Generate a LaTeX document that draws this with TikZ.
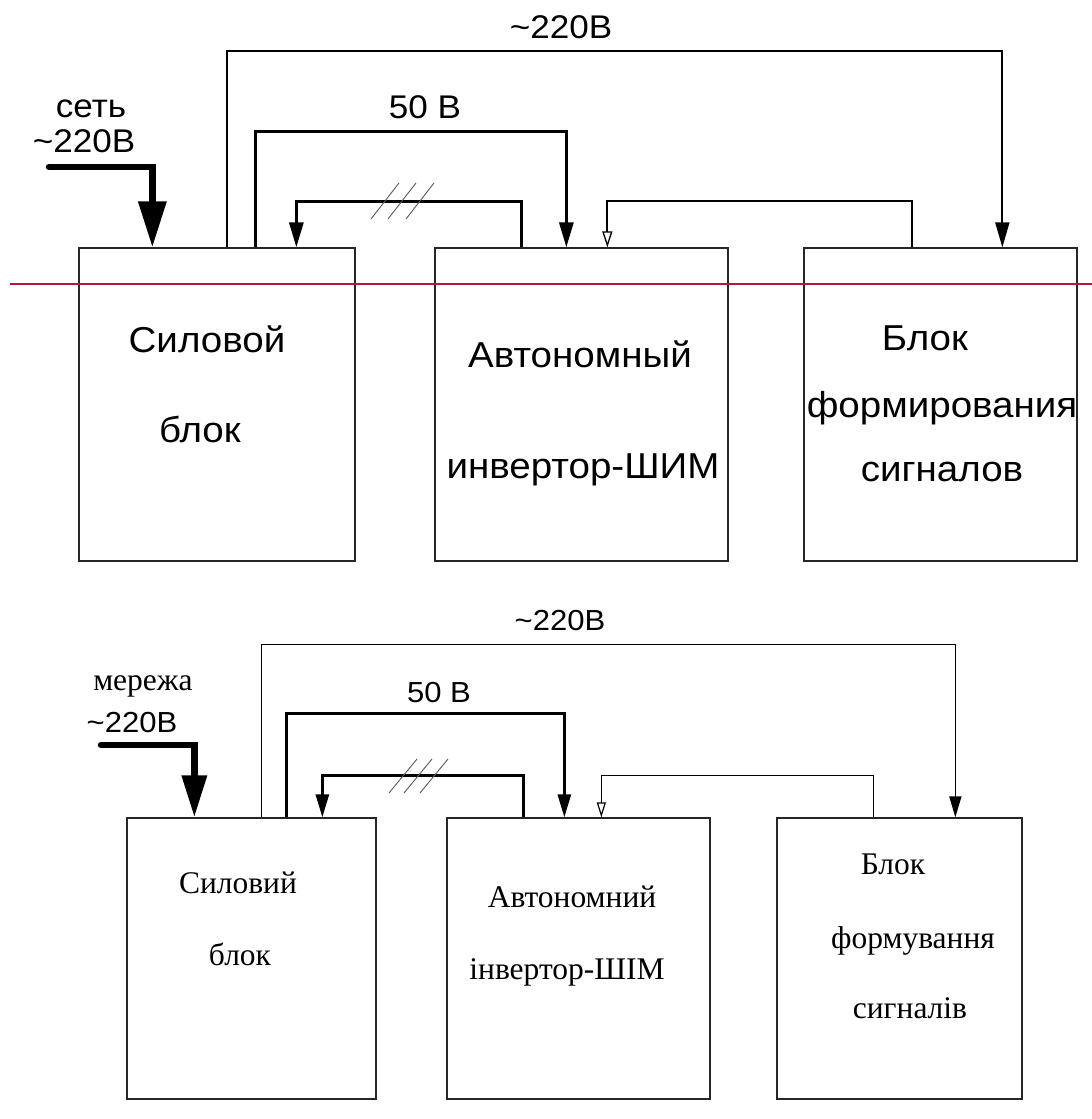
\documentclass[tikz,border=0pt]{standalone}
\usepackage{fontspec}
\setmainfont{Liberation Serif}
\newfontfamily\schemafont{Liberation Sans}[FakeStretch=1.07]
\usetikzlibrary{arrows.meta}

\definecolor{markrood}{RGB}{185,20,60}

\begin{document}
\begin{tikzpicture}[x=1pt, y=-1pt,
    blok/.style={draw=black!85, line width=1.3pt, inner sep=0pt},
    tekst/.style={anchor=base, inner sep=0pt},
    rutekst/.style={tekst, font=\schemafont\fontsize{36}{42}\selectfont},
    rulabel/.style={tekst, font=\schemafont\fontsize{32.8}{38}\selectfont},
    uatekst/.style={tekst, font=\fontsize{31.5}{38}\selectfont},
    ualabel/.style={tekst, font=\schemafont\fontsize{29}{34}\selectfont},
    draad/.style={line width=1.8pt},
    dikdraad/.style={line width=3pt},
    voeding/.style={line width=6.5pt, line cap=round,
      -{Triangle[length=46pt, width=27pt]}},
    pijl/.style={-{Triangle[length=25pt, width=14pt]}},
    openpijl/.style={-{Triangle[open, length=16pt, width=10pt, line width=1.3pt]}},
    arcering/.style={line width=0.9pt, black!65}]

  \useasboundingbox (0,0) rectangle (1092,1119);

  % ============================================================
  % BOVEN: russische variant
  % ============================================================

  % Blokken
  \node[blok, minimum width=276pt, minimum height=313pt] (sb1)  at (217,404.5) {};
  \node[blok, minimum width=293pt, minimum height=313pt] (inv1) at (581.5,404.5) {};
  \node[blok, minimum width=273pt, minimum height=313pt] (sig1) at (940.5,404.5) {};

  \node[rutekst] (sb1a)  at (207,352) {Силовой};
  \node[rutekst] (sb1b)  at (200,442) {блок};
  \node[rutekst] (inv1a) at (580,367) {Автономный};
  \node[rutekst] (inv1b) at (583,478) {инвертор-ШИМ};
  \node[rutekst] (sig1a) at (925,350) {Блок};
  \node[rutekst] (sig1b) at (942,417) {формирования};
  \node[rutekst] (sig1c) at (942,481) {сигналов};

  % Rode hulplijn
  \draw[markrood, line width=2.2pt] (10,284) -- (1092,284);

  % Netvoeding
  \coordinate (net1) at (49,167);
  \node[rulabel] (net1a) at (91,117) {сеть};
  \node[rulabel] (net1b) at (84,152) {\textasciitilde220В};
  \draw[voeding] (net1) -| ([xshift=74pt]sb1.north west);

  % ~220 V naar signaalblok
  \draw[draad, pijl]
    ([xshift=149pt]sb1.north west) -- ++(0,-196)
    -| ([xshift=199pt]sig1.north west);
  \node[rulabel] (u220a) at (561,38) {\textasciitilde220В};

  % 50 V naar invertor
  \draw[dikdraad, pijl]
    ([xshift=177pt]sb1.north west) -- ++(0,-116)
    -| ([xshift=132pt]inv1.north west);
  \node[rulabel] (u50a) at (425,118) {50 В};

  % Terugkoppeling
  \draw[dikdraad, pijl]
    ([xshift=87pt]inv1.north west) -- ++(0,-46)
    -| ([xshift=218pt]sb1.north west);
  \draw[arcering] (371,219) -- (399,183);
  \draw[arcering] (388,219) -- (416,183);
  \draw[arcering] (406,219) -- (434,183);

  % Stuursignalen
  \draw[draad, openpijl]
    ([xshift=109pt]sig1.north west) -- ++(0,-46)
    -| ([xshift=173pt]inv1.north west);

  % ============================================================
  % ONDER: oekraiense variant
  % ============================================================

  % Blokken
  \node[blok, minimum width=249pt, minimum height=281pt] (sb2)  at (251.5,958.5) {};
  \node[blok, minimum width=263pt, minimum height=281pt] (inv2) at (578.5,958.5) {};
  \node[blok, minimum width=245pt, minimum height=281pt] (sig2) at (899.5,958.5) {};

  \node[uatekst] (sb2a)  at (238,893)  {Силовий};
  \node[uatekst] (sb2b)  at (240,965)  {блок};
  \node[uatekst] (inv2a) at (572,907)  {Автономний};
  \node[uatekst] (inv2b) at (567,979)  {інвертор-ШІМ};
  \node[uatekst] (sig2a) at (893,874)  {Блок};
  \node[uatekst] (sig2b) at (913,948)  {формування};
  \node[uatekst] (sig2c) at (910,1018) {сигналів};

  % Netvoeding
  \coordinate (net2) at (101,745);
  \node[uatekst] (net2a) at (143,690) {мережа};
  \node[ualabel] (net2b) at (132,732) {\textasciitilde220В};
  \draw[voeding, -{Triangle[length=42pt, width=24pt]}]
    (net2) -| ([xshift=68pt]sb2.north west);

  % ~220 V naar signaalblok
  \draw[draad, line width=1.6pt, -{Triangle[length=21pt, width=12pt]}]
    ([xshift=135pt]sb2.north west) -- ++(0,-173)
    -| ([xshift=179pt]sig2.north west);
  \node[ualabel] (u220b) at (560,630) {\textasciitilde220В};

  % 50 V naar invertor
  \draw[dikdraad, line width=2.7pt, -{Triangle[length=23pt, width=13pt]}]
    ([xshift=160pt]sb2.north west) -- ++(0,-104)
    -| ([xshift=118pt]inv2.north west);
  \node[ualabel] (u50b) at (439,702) {50 В};

  % Terugkoppeling
  \draw[dikdraad, line width=2.7pt, -{Triangle[length=23pt, width=13pt]}]
    ([xshift=77pt]inv2.north west) -- ++(0,-42)
    -| ([xshift=196pt]sb2.north west);
  \draw[arcering] (389,793) -- (417,759);
  \draw[arcering] (404,793) -- (432,759);
  \draw[arcering] (420,793) -- (448,759);

  % Stuursignalen
  \draw[draad, line width=1.6pt,
      -{Triangle[open, length=15pt, width=9pt, line width=1.2pt]}]
    ([xshift=97pt]sig2.north west) -- ++(0,-42)
    -| ([xshift=155pt]inv2.north west);

\end{tikzpicture}
\end{document}
